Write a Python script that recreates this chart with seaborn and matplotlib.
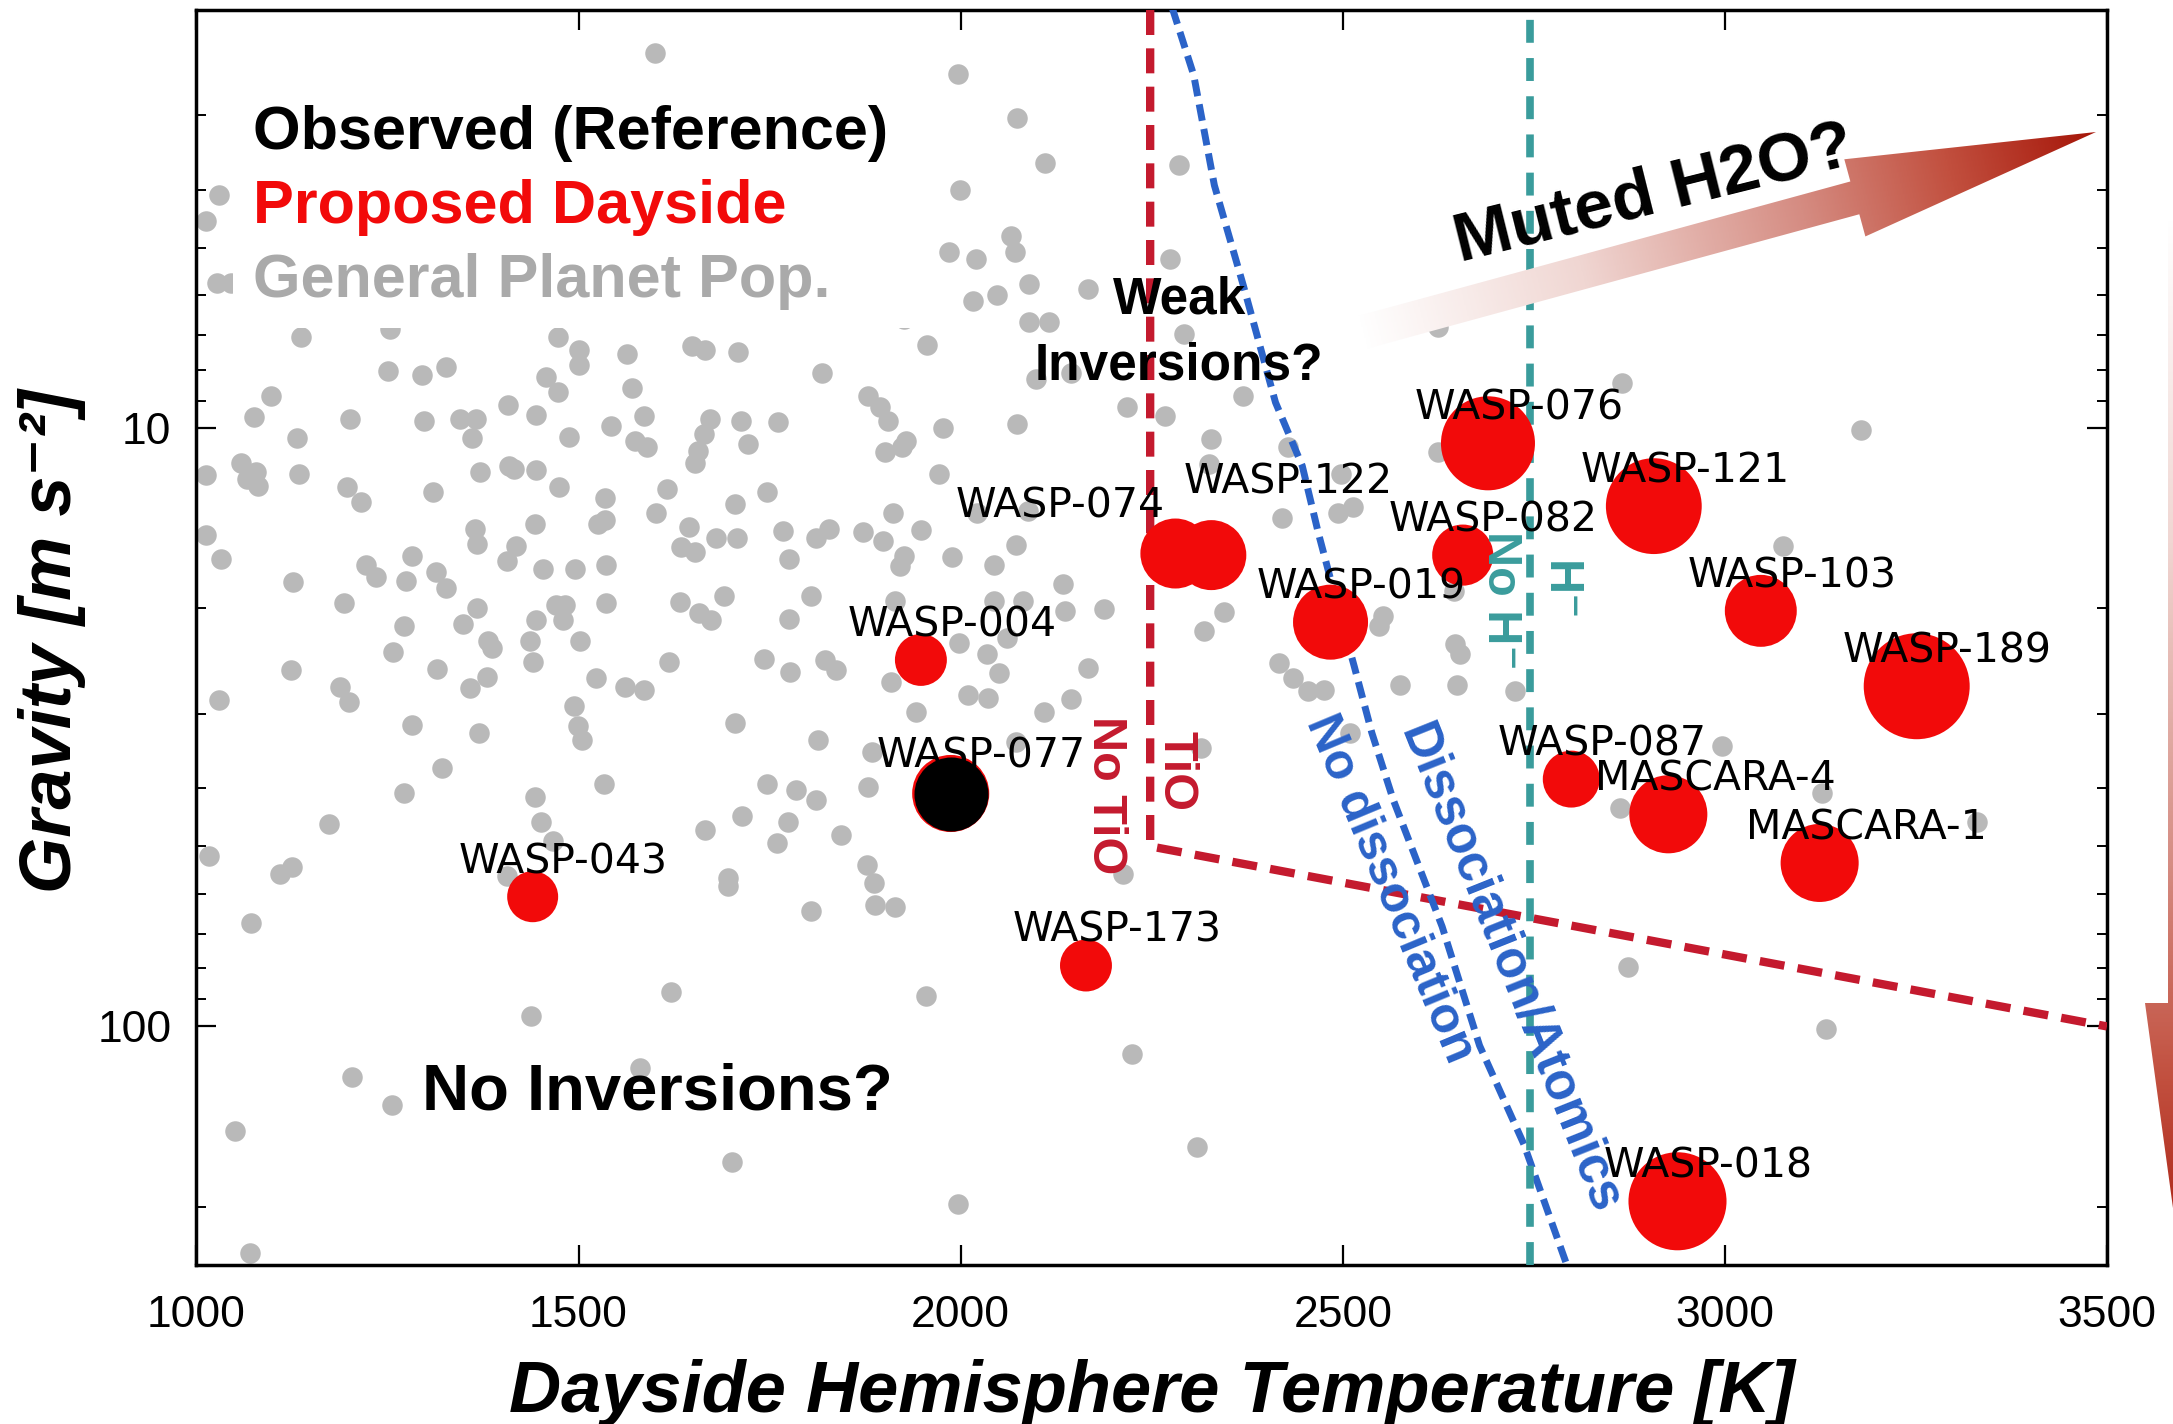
import numpy as np
import pandas as pd
import matplotlib
matplotlib.use("Agg")
import matplotlib.pyplot as plt
import seaborn as sns
from matplotlib.colors import LinearSegmentedColormap
from matplotlib.patches import Polygon, Rectangle
from matplotlib.ticker import LogLocator, NullFormatter

# ---------------------------------------------------------------------------
# General planet population: dayside temperature [K], log10 gravity [m s^-2]
# ---------------------------------------------------------------------------
pop_temperature = [
    1600, 1030, 1013, 1027, 1045, 1137, 1253, 1473, 1501, 1501,
    1564, 1648, 1665, 1709, 1251, 1295, 1326, 1098, 1076, 1201,
    1298, 1345, 1366, 1408, 1457, 1473, 1445, 1570, 1543, 1586,
    1672, 1712,
    1997, 2074, 2111, 1999, 2286, 2066, 2071, 1985, 2020, 2274,
    2089, 2047, 2016, 2166, 1949, 1926, 2089, 2116, 2292, 1956,
    1818, 1879, 1895, 1905, 1761, 2099, 2145, 2370, 2218, 2267,
    1977, 2074,
    2625, 2866, 3178, 2429,
    1131, 1360, 1487, 1574, 1590, 1664, 1656, 1653, 1722, 1059,
    1078, 1066, 1080, 1013, 1134, 1197, 1215, 1309, 1371, 1409,
    1415, 1444, 1474, 1534, 1534, 1525, 1616, 1602, 1705, 1645,
    1634, 1653, 1680, 1708, 1013, 1032, 1365, 1367, 1443, 1418,
    1407, 1454, 1496, 1536, 1282, 1222, 1235, 1274, 1314, 1326,
    1126, 1193, 1367, 1349, 1272, 1257, 1382, 1387, 1436, 1440,
    1445, 1471, 1482, 1480, 1502, 1536, 1633, 1658, 1673, 1691,
    1619, 1523, 1561, 1586, 1124, 1188, 1200, 1315, 1380, 1358,
    1030, 1282, 1370, 1494, 1499, 1505, 1705, 1321, 1272, 1533,
    1443, 1451, 1173, 1666, 1714, 1466,
    1901, 1923, 1929, 1747, 1972, 1912, 1828, 1811, 1768, 1872,
    1899, 1948, 1776, 1926, 1921, 1989, 2043, 2072, 2022, 2088,
    2134, 1804, 1914, 2043, 2082, 2136, 2187, 1775, 1743, 1823,
    1837, 1777, 1998, 2034, 2061, 2050, 1909, 2010, 2036, 2166,
    2144, 2109, 1942, 1813, 1884, 2073, 2315, 1746, 1785, 1811,
    1879, 1774, 1844, 1760, 2328, 2325, 2421, 2344, 2318, 2417,
    2435, 2454,
    1017, 1109, 1125, 1407, 1071, 1695, 1695, 1621, 1438, 1204,
    1256, 1580, 1051, 1701, 1070,
    1877, 1886, 1888, 1914, 1804, 2213, 1955, 2224, 2309, 1996,
    2625, 2498, 2494, 2514, 3076, 2646, 2553, 2548, 2647, 2653,
    2575, 2650, 2725, 2475, 2510, 2996, 2863, 3127, 3330, 2873,
    3132,
]
pop_log_gravity = [
    0.373, 0.611, 0.654, 0.757, 0.757, 0.848, 0.834, 0.848, 0.870, 0.894,
    0.876, 0.863, 0.869, 0.873, 0.904, 0.911, 0.898, 0.946, 0.982, 0.985,
    0.988, 0.984, 0.984, 0.961, 0.915, 0.939, 0.978, 0.933, 0.996, 0.980,
    0.985, 0.988,
    0.408, 0.481, 0.557, 0.602, 0.560, 0.679, 0.706, 0.706, 0.718, 0.718,
    0.759, 0.778, 0.787, 0.767, 0.792, 0.817, 0.822, 0.822, 0.842, 0.861,
    0.908, 0.946, 0.964, 0.988, 0.990, 0.918, 0.907, 0.946, 0.965, 0.980,
    0.999, 0.993,
    0.831, 0.924, 1.003, 1.031,
    1.016, 1.016, 1.014, 1.021, 1.032, 1.010, 1.038, 1.058, 1.027, 1.058,
    1.074, 1.085, 1.097, 1.078, 1.077, 1.099, 1.123, 1.106, 1.074, 1.063,
    1.069, 1.070, 1.098, 1.117, 1.154, 1.161, 1.102, 1.142, 1.127, 1.165,
    1.198, 1.207, 1.184, 1.184, 1.178, 1.218, 1.168, 1.193, 1.160, 1.197,
    1.222, 1.235, 1.236, 1.229, 1.214, 1.228, 1.248, 1.256, 1.241, 1.267,
    1.257, 1.293, 1.300, 1.328, 1.331, 1.374, 1.356, 1.367, 1.355, 1.391,
    1.320, 1.295, 1.295, 1.320, 1.355, 1.292, 1.290, 1.309, 1.320, 1.281,
    1.391, 1.418, 1.433, 1.437, 1.404, 1.432, 1.457, 1.402, 1.416, 1.434,
    1.454, 1.496, 1.509, 1.465, 1.498, 1.521, 1.493, 1.568, 1.609, 1.595,
    1.617, 1.659, 1.662, 1.671, 1.649, 1.690,
    1.040, 1.032, 1.021, 1.107, 1.077, 1.141, 1.168, 1.183, 1.172, 1.174,
    1.189, 1.170, 1.218, 1.214, 1.231, 1.215, 1.228, 1.196, 1.141, 1.139,
    1.260, 1.281, 1.289, 1.289, 1.289, 1.306, 1.303, 1.319, 1.386, 1.387,
    1.404, 1.408, 1.359, 1.377, 1.351, 1.410, 1.424, 1.446, 1.451, 1.401,
    1.453, 1.474, 1.474, 1.521, 1.541, 1.524, 1.535, 1.594, 1.604, 1.622,
    1.600, 1.658, 1.680, 1.694, 1.018, 1.060, 1.150, 1.308, 1.339, 1.392,
    1.418, 1.440,
    1.715, 1.745, 1.733, 1.749, 1.827, 1.752, 1.765, 1.942, 1.983, 2.085,
    2.132, 2.069, 2.174, 2.227, 2.379,
    1.730, 1.761, 1.797, 1.800, 1.807, 1.745, 1.949, 2.046, 2.202, 2.297,
    1.040, 1.077, 1.141, 1.131, 1.197, 1.272, 1.314, 1.331, 1.361, 1.378,
    1.430, 1.430, 1.440, 1.437, 1.509, 1.532, 1.635, 1.610, 1.659, 1.900,
    2.005,
]

# ---------------------------------------------------------------------------
# Proposed dayside targets
# ---------------------------------------------------------------------------
target_names = ["WASP-043", "WASP-004", "WASP-077", "WASP-173", "WASP-074",
                "WASP-122", "WASP-019", "WASP-082", "WASP-076", "WASP-087",
                "MASCARA-4", "WASP-121", "WASP-018", "WASP-103", "MASCARA-1",
                "WASP-189"]
target_temperature = [1440, 1948, 1987, 2164, 2281, 2328, 2484, 2657, 2690,
                      2799, 2926, 2907, 2938, 3047, 3124, 3251]
target_gravity = [60.7, 24.4, 40.8, 79.1, 16.2, 16.3, 21.1, 16.3, 10.6,
                  38.6, 44.2, 13.5, 196.0, 20.2, 53.3, 27.0]
# marker diameter (points)
target_marker_pt = [36.7, 37.4, 55.5, 37.4, 50.4, 50.4, 54.0, 44.0, 67.7,
                    41.0, 56.2, 69.0, 70.6, 51.8, 56.2, 76.3]
# label offsets from each marker (points)
label_offset = {"WASP-074": (-158, 26), "WASP-122": (-20, 44),
                "WASP-077": (-53, 19)}
default_offset = (-53, 17)

# Observed reference planet
observed_name = ["WASP-077"]
observed_temperature = [1987]
observed_gravity = [40.8]
observed_marker_pt = [53.3]

# ---------------------------------------------------------------------------
# Regime boundaries
# ---------------------------------------------------------------------------
tio_temperature = [2248, 2248, 3500]
tio_gravity = [2.0, 50.0, 100.0]

dissoc_temperature = [2277, 2305, 2332, 2370, 2412, 2447, 2468, 2491, 2515,
                      2538, 2566, 2630, 2679, 2737, 2793]
dissoc_log_gravity = [0.298, 0.410, 0.594, 0.762, 0.957, 1.063, 1.175, 1.286,
                      1.398, 1.509, 1.621, 1.833, 2.032, 2.197, 2.398]

hminus_temperature = 2745

# ---------------------------------------------------------------------------
GREY = "#b9b9b9"
RED = "#f20a0a"
TIO_RED = "#c41a2e"
BLUE = "#2b63c8"
TEAL = "#3a9c9c"
HELV = ["Liberation Sans", "DejaVu Sans"]

sns.set_style("ticks")
plt.rcParams["font.family"] = HELV
plt.rcParams["axes.linewidth"] = 2.5
plt.rcParams["text.color"] = "black"
plt.rcParams["axes.labelcolor"] = "black"
plt.rcParams["xtick.color"] = "black"
plt.rcParams["ytick.color"] = "black"
plt.rcParams["axes.edgecolor"] = "black"

W, H = 2173, 1424
fig = plt.figure(figsize=(W / 100, H / 100), dpi=100)
ax = fig.add_axes([196.4 / W, 1 - 1264.5 / H, (2107 - 196.4) / W, (1264.5 - 10) / H])

pop = pd.DataFrame({"temperature": pop_temperature,
                    "gravity": 10.0 ** np.asarray(pop_log_gravity)})
sns.scatterplot(data=pop, x="temperature", y="gravity", color=GREY, s=218,
                linewidth=0, ax=ax, zorder=2, legend=False)

targets = pd.DataFrame({"name": target_names,
                        "temperature": target_temperature,
                        "gravity": target_gravity,
                        "area": np.asarray(target_marker_pt) ** 2})
amin, amax = targets["area"].min(), targets["area"].max()
sns.scatterplot(data=targets, x="temperature", y="gravity", size="area",
                sizes=(amin, amax), size_norm=(amin, amax), color=RED,
                linewidth=0, ax=ax, zorder=5, legend=False)

observed = pd.DataFrame({"temperature": observed_temperature,
                         "gravity": observed_gravity,
                         "area": np.asarray(observed_marker_pt) ** 2})
sns.scatterplot(data=observed, x="temperature", y="gravity", color="black",
                s=observed["area"].iloc[0], linewidth=0, ax=ax, zorder=6,
                legend=False)

for name, t, g in zip(target_names, target_temperature, target_gravity):
    ax.annotate(name, (t, g), xytext=label_offset.get(name, default_offset),
                textcoords="offset points", ha="left", va="baseline",
                fontsize=29.5, family="DejaVu Sans", color="black", zorder=8)

# boundaries
ax.plot(tio_temperature, tio_gravity, color=TIO_RED, lw=6,
        dashes=(3.0, 1.6), zorder=3, solid_capstyle="butt")
ax.plot(dissoc_temperature, 10.0 ** np.asarray(dissoc_log_gravity), color=BLUE,
        lw=5, dashes=(2.4, 1.2), zorder=3)
ax.axvline(hminus_temperature, color=TEAL, lw=5.5, dashes=(3.0, 2.0), zorder=3)

# axes
ax.set_yscale("log")
ax.set_xlim(1000, 3500)
ax.set_ylim(250, 2)
ax.set_xticks([1000, 1500, 2000, 2500, 3000, 3500])
ax.set_xticklabels(["1000", "1500", "2000", "2500", "3000", "3500"])
ax.set_yticks([10, 100])
ax.set_yticklabels(["10", "100"])
ax.yaxis.set_minor_locator(LogLocator(base=10, subs=np.arange(2, 10)))
ax.yaxis.set_minor_formatter(NullFormatter())
ax.tick_params(axis="both", which="major", direction="in", length=14.4,
               width=1.6, top=True, right=True, labelsize=32, pad=22,
               colors="black")
ax.tick_params(axis="y", which="major", pad=18)
ax.tick_params(axis="both", which="minor", direction="in", length=7.2,
               width=1.4, top=True, right=True, colors="black")
for sp in ax.spines.values():
    sp.set_linewidth(2.5)
    sp.set_color("black")

ax.set_xlabel("Dayside Hemisphere Temperature [K]", fontsize=52,
              fontweight="bold", fontstyle="italic", family=HELV,
              color="black")
ax.xaxis.label.set_va("baseline")
ax.xaxis.set_label_coords(0.5, -0.1176)
ax.set_ylabel("Gravity [m s\u207b\u00b2]", fontsize=52, fontweight="bold",
              fontstyle="italic", family=HELV, color="black")
ax.yaxis.label.set_va("center")
ax.yaxis.set_label_coords(-0.0756, 0.497)

# legend block with white backing
ax.add_patch(Rectangle((0.0192, 0.7465), 0.3665, 0.1975, transform=ax.transAxes,
                       facecolor="white", edgecolor="none", zorder=4))
for txt, col, yb in [("Observed (Reference)", "black", 0.889),
                     ("Proposed Dayside", RED, 0.830),
                     ("General Planet Pop.", "#aaaaaa", 0.771)]:
    ax.text(0.0294, yb, txt, transform=ax.transAxes, ha="left", va="baseline",
            fontsize=44, fontweight="bold", color=col, family=HELV, zorder=9)

# region annotations
ax.text(0.5144, 0.7582, "Weak", transform=ax.transAxes, ha="center",
        va="baseline", fontsize=37, fontweight="bold", color="black", zorder=9)
ax.text(0.5144, 0.7056, "Inversions?", transform=ax.transAxes, ha="center",
        va="baseline", fontsize=37, fontweight="bold", color="black", zorder=9)
ax.text(0.1181, 0.1237, "No Inversions?", transform=ax.transAxes, ha="left",
        va="baseline", fontsize=47, fontweight="bold", color="black", zorder=9)

ax.text(0.5129, 0.3934, "TiO", transform=ax.transAxes, rotation=-90,
        ha="center", va="center", fontsize=35, fontweight="bold",
        color=TIO_RED, zorder=9)
ax.text(0.4757, 0.3738, "No TiO", transform=ax.transAxes, rotation=-90,
        ha="center", va="center", fontsize=35, fontweight="bold",
        color=TIO_RED, zorder=9)
ax.text(0.6825, 0.5293, "No H\u207b", transform=ax.transAxes, rotation=-90,
        ha="center", va="center", fontsize=35, fontweight="bold",
        color=TEAL, zorder=9)
ax.text(0.7134, 0.5365, "H\u207b", transform=ax.transAxes, rotation=-90,
        ha="center", va="center", fontsize=35, fontweight="bold",
        color=TEAL, zorder=9)
ax.text(0.6244, 0.2993, "No dissociation", transform=ax.transAxes,
        rotation=-67.4, rotation_mode="anchor", ha="center", va="center",
        fontsize=36, fontweight="bold", color=BLUE, zorder=9)
ax.text(0.6871, 0.2351, "Dissociation/Atomics", transform=ax.transAxes,
        rotation=-68.2, rotation_mode="anchor", ha="center", va="center",
        fontsize=37, fontweight="bold", color=BLUE, zorder=9)

# ---------------------------------------------------------------------------
# gradient arrows drawn on a transparent overlay in figure pixels
# ---------------------------------------------------------------------------
over = fig.add_axes([0, 0, 1, 1], zorder=10)
over.set_xlim(0, W)
over.set_ylim(H, 0)
over.axis("off")
over.patch.set_alpha(0)

arrow_cmap = LinearSegmentedColormap.from_list(
    "fade_red", [(0.0, "#ffffff"), (0.3, "#f0d6d2"), (0.6, "#d58c82"),
                 (0.8, "#c2503f"), (1.0, "#a51508")])


def gradient_arrow(axo, tail, tip, shaft_hw, head_hw, head_len, cmap):
    tail = np.asarray(tail, float)
    tip = np.asarray(tip, float)
    length = np.linalg.norm(tip - tail)
    u = (tip - tail) / length
    n = np.array([-u[1], u[0]])
    base = tip - head_len * u
    pts = np.array([tail + shaft_hw * n, base + shaft_hw * n,
                    base + head_hw * n, tip, base - head_hw * n,
                    base - shaft_hw * n, tail - shaft_hw * n])
    poly = Polygon(pts, closed=True, facecolor="none", edgecolor="none")
    axo.add_patch(poly)
    x0, x1 = pts[:, 0].min(), pts[:, 0].max()
    y0, y1 = pts[:, 1].min(), pts[:, 1].max()
    gx, gy = np.meshgrid(np.linspace(x0, x1, 500), np.linspace(y0, y1, 500))
    t = ((gx - tail[0]) * u[0] + (gy - tail[1]) * u[1]) / length
    im = axo.imshow(np.clip(t, 0, 1), extent=(x0, x1, y1, y0), origin="upper",
                    cmap=cmap, vmin=0, vmax=1, aspect="auto",
                    interpolation="bilinear", zorder=1)
    im.set_clip_path(poly)


gradient_arrow(over, (1360, 333), (2096, 132), 17, 40, 250, arrow_cmap)
gradient_arrow(over, (2185, 218), (2185, 1296), 17, 40, 293, arrow_cmap)
over.set_xlim(0, W)
over.set_ylim(H, 0)

over.text(1460, 262, "Muted H2O?", rotation=14, rotation_mode="anchor",
          ha="left", va="baseline", fontsize=50, fontweight="bold",
          family=HELV, color="black", zorder=5)

fig.savefig("out.png", dpi=100, facecolor="white")
